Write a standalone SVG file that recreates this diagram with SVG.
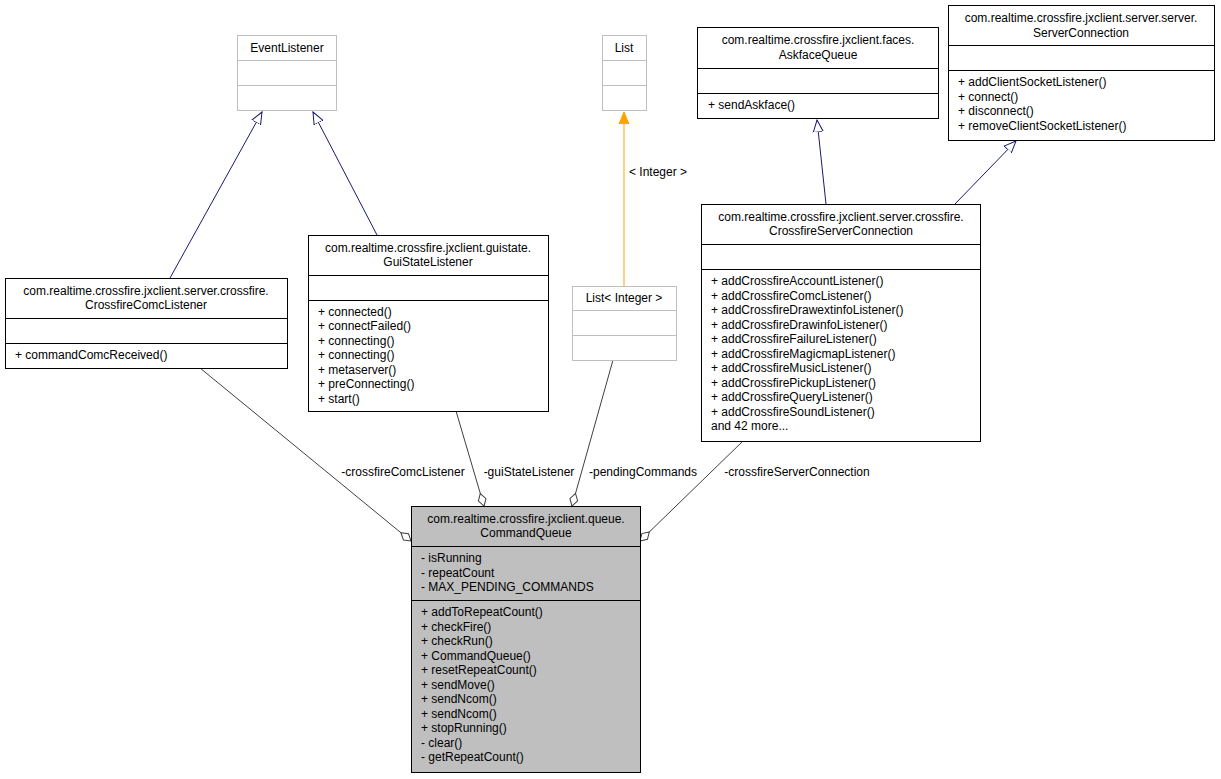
<svg xmlns="http://www.w3.org/2000/svg" width="1221" height="779" viewBox="0 0 1221 779">
<style>
text{font-family:"Liberation Sans",Arial,sans-serif;font-size:12px;fill:#000}
.b{fill:#fff;stroke:#000;stroke-width:1}
.g{fill:#fff;stroke:#bfbfbf;stroke-width:1}
.q{fill:#bfbfbf;stroke:#000;stroke-width:1}
.ln{stroke:#000;stroke-width:1}
.lg{stroke:#bfbfbf;stroke-width:1}
.inh{stroke:#191970;fill:none;stroke-width:1}
.agg{stroke:#404040;fill:none;stroke-width:1}
.tmp{stroke:#ffa500;fill:none;stroke-width:1}
.c{text-anchor:middle}
</style>
<defs>
<marker id="tri" markerUnits="userSpaceOnUse" markerWidth="14" markerHeight="14" refX="12" refY="6" orient="auto"><path d="M0,1 L12,6 L0,11 Z" fill="#fff" stroke="#191970"/></marker>
<marker id="dia" markerUnits="userSpaceOnUse" markerWidth="16" markerHeight="12" refX="14" refY="5" orient="auto"><path d="M1,5 L7.5,1 L14,5 L7.5,9 Z" fill="#fff" stroke="#404040"/></marker>
<marker id="arr" markerUnits="userSpaceOnUse" markerWidth="14" markerHeight="14" refX="12" refY="6" orient="auto"><path d="M0,1 L12,6 L0,11 Z" fill="#ffa500" stroke="#ffa500"/></marker>
</defs>
<g id="connectors">
<path class="inh" d="M170,278 L262,112" marker-end="url(#tri)"/>
<path class="inh" d="M377,235 L313,112" marker-end="url(#tri)"/>
<path class="tmp" d="M624,286 L624,112" marker-end="url(#arr)"/>
<text x="658" y="176" class="c">&lt; Integer &gt;</text>
<path class="inh" d="M826,204 L817,120" marker-end="url(#tri)"/>
<path class="inh" d="M955,204 L1016,141" marker-end="url(#tri)"/>
<path class="agg" d="M200,368 L411,541" marker-end="url(#dia)"/>
<text x="403" y="476" class="c">-crossfireComcListener</text>
<path class="agg" d="M456,411 L484,506" marker-end="url(#dia)"/>
<text x="529" y="476" class="c">-guiStateListener</text>
<path class="agg" d="M613,360 L572,506" marker-end="url(#dia)"/>
<text x="643" y="476" class="c">-pendingCommands</text>
<path class="agg" d="M743,441 L640,541" marker-end="url(#dia)"/>
<text x="797" y="476" class="c">-crossfireServerConnection</text>
</g>
<g id="EventListener">
<rect class="g" x="237.5" y="35.5" width="99" height="75"/>
<line class="lg" x1="237.5" y1="60.5" x2="336.5" y2="60.5"/>
<line class="lg" x1="237.5" y1="85.5" x2="336.5" y2="85.5"/>
<text x="287" y="52" class="c">EventListener</text>
</g>
<g id="List">
<rect class="g" x="602.5" y="35.5" width="44" height="75"/>
<line class="lg" x1="602.5" y1="60.5" x2="646.5" y2="60.5"/>
<line class="lg" x1="602.5" y1="85.5" x2="646.5" y2="85.5"/>
<text x="624" y="52" class="c">List</text>
</g>
<g id="AskfaceQueue">
<rect class="b" x="697.5" y="27.5" width="241" height="91"/>
<line class="ln" x1="697.5" y1="68.5" x2="938.5" y2="68.5"/>
<line class="ln" x1="697.5" y1="93.5" x2="938.5" y2="93.5"/>
<text x="818" y="44" class="c">com.realtime.crossfire.jxclient.faces.</text>
<text x="818" y="59" class="c">AskfaceQueue</text>
<text x="708" y="109">+ sendAskface()</text>
</g>
<g id="ServerConnection">
<rect class="b" x="948.5" y="5.5" width="266" height="135"/>
<line class="ln" x1="948.5" y1="45.5" x2="1214.5" y2="45.5"/>
<line class="ln" x1="948.5" y1="70.5" x2="1214.5" y2="70.5"/>
<text x="1081" y="22" class="c">com.realtime.crossfire.jxclient.server.server.</text>
<text x="1081" y="37" class="c">ServerConnection</text>
<text x="958" y="86">+ addClientSocketListener()</text>
<text x="958" y="101">+ connect()</text>
<text x="958" y="115">+ disconnect()</text>
<text x="958" y="130">+ removeClientSocketListener()</text>
</g>
<g id="CrossfireComcListener">
<rect class="b" x="5.5" y="278.5" width="282" height="90"/>
<line class="ln" x1="5.5" y1="318.5" x2="287.5" y2="318.5"/>
<line class="ln" x1="5.5" y1="343.5" x2="287.5" y2="343.5"/>
<text x="146" y="295" class="c">com.realtime.crossfire.jxclient.server.crossfire.</text>
<text x="146" y="309" class="c">CrossfireComcListener</text>
<text x="15" y="359">+ commandComcReceived()</text>
</g>
<g id="GuiStateListener">
<rect class="b" x="308.5" y="235.5" width="240" height="176"/>
<line class="ln" x1="308.5" y1="275.5" x2="548.5" y2="275.5"/>
<line class="ln" x1="308.5" y1="300.5" x2="548.5" y2="300.5"/>
<text x="428" y="252" class="c">com.realtime.crossfire.jxclient.guistate.</text>
<text x="428" y="266" class="c">GuiStateListener</text>
<text x="318" y="316">+ connected()</text>
<text x="318" y="330">+ connectFailed()</text>
<text x="318" y="345">+ connecting()</text>
<text x="318" y="359">+ connecting()</text>
<text x="318" y="374">+ metaserver()</text>
<text x="318" y="388">+ preConnecting()</text>
<text x="318" y="403">+ start()</text>
</g>
<g id="ListInteger">
<rect class="g" x="572.5" y="286.5" width="104" height="74"/>
<line class="lg" x1="572.5" y1="310.5" x2="676.5" y2="310.5"/>
<line class="lg" x1="572.5" y1="335.5" x2="676.5" y2="335.5"/>
<text x="624" y="302" class="c">List&lt; Integer &gt;</text>
</g>
<g id="CrossfireServerConnection">
<rect class="b" x="701.5" y="204.5" width="279" height="237"/>
<line class="ln" x1="701.5" y1="244.5" x2="980.5" y2="244.5"/>
<line class="ln" x1="701.5" y1="269.5" x2="980.5" y2="269.5"/>
<text x="841" y="221" class="c">com.realtime.crossfire.jxclient.server.crossfire.</text>
<text x="841" y="235" class="c">CrossfireServerConnection</text>
<text x="711" y="285">+ addCrossfireAccountListener()</text>
<text x="711" y="300">+ addCrossfireComcListener()</text>
<text x="711" y="314">+ addCrossfireDrawextinfoListener()</text>
<text x="711" y="329">+ addCrossfireDrawinfoListener()</text>
<text x="711" y="343">+ addCrossfireFailureListener()</text>
<text x="711" y="358">+ addCrossfireMagicmapListener()</text>
<text x="711" y="372">+ addCrossfireMusicListener()</text>
<text x="711" y="387">+ addCrossfirePickupListener()</text>
<text x="711" y="401">+ addCrossfireQueryListener()</text>
<text x="711" y="416">+ addCrossfireSoundListener()</text>
<text x="711" y="430">and 42 more...</text>
</g>
<g id="CommandQueue">
<rect class="q" x="411.5" y="506.5" width="229" height="266"/>
<line class="ln" x1="411.5" y1="546.5" x2="640.5" y2="546.5"/>
<line class="ln" x1="411.5" y1="600.5" x2="640.5" y2="600.5"/>
<text x="526" y="523" class="c">com.realtime.crossfire.jxclient.queue.</text>
<text x="526" y="537" class="c">CommandQueue</text>
<text x="421" y="562">- isRunning</text>
<text x="421" y="577">- repeatCount</text>
<text x="421" y="591">- MAX_PENDING_COMMANDS</text>
<text x="421" y="616">+ addToRepeatCount()</text>
<text x="421" y="631">+ checkFire()</text>
<text x="421" y="645">+ checkRun()</text>
<text x="421" y="660">+ CommandQueue()</text>
<text x="421" y="674">+ resetRepeatCount()</text>
<text x="421" y="689">+ sendMove()</text>
<text x="421" y="703">+ sendNcom()</text>
<text x="421" y="718">+ sendNcom()</text>
<text x="421" y="732">+ stopRunning()</text>
<text x="421" y="747">- clear()</text>
<text x="421" y="761">- getRepeatCount()</text>
</g>
</svg>
